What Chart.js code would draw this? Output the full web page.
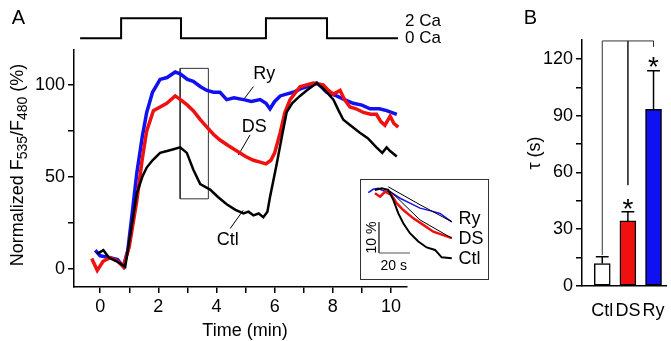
<!DOCTYPE html>
<html>
<head>
<meta charset="utf-8">
<script src="https://cdn.jsdelivr.net/npm/chart.js@4.4.1/dist/chart.umd.min.js"></script>
<style>
  body { margin: 0; background: #fff; }
  #wrap { position: relative; width: 671px; height: 341px; overflow: hidden; background: #fff; }
  #chartA { position: absolute; left: 0; top: 0; }
  #insetBox { position: absolute; left: 360px; top: 179px; width: 127px; height: 99px; border: 1px solid #333; background: #fff; }
  #chartB { position: absolute; left: 520px; top: 0; }
</style>
</head>
<body>
<div id="wrap">
  <canvas id="chartA" width="470" height="341"></canvas>
  <div id="insetBox"><canvas id="inset" width="127" height="99"></canvas></div>
  <canvas id="chartB" width="151" height="341"></canvas>
</div>
<script>
const FONT = "'Liberation Sans', Arial, sans-serif";

// Panel A: normalized F535/F480 (%) vs time (min)
const ctlTime = [-0.11, 0.11, 0.3, 0.57, 0.86, 1.05, 1.26, 1.45, 1.6, 1.8, 2.06, 2.3, 2.52, 2.75, 2.98, 3.2, 3.44, 3.78, 4.05, 4.35, 4.65, 4.93, 5.1, 5.27, 5.45, 5.61, 5.75, 5.84, 6.07, 6.25, 6.41, 6.6, 6.87, 7.1, 7.45, 7.67, 7.85, 8.02, 8.2, 8.36, 8.6, 8.93, 9.2, 9.5, 9.7, 9.85, 9.97, 10.2];
const ctlVal  = [8, 10, 6, 4, 1, 20, 41, 50, 55, 59, 63, 64, 65, 66, 63, 54, 46, 43, 39, 35, 32, 30, 31, 29, 30, 28, 31, 39, 57, 72, 85, 90, 94, 97, 101, 98, 95, 92, 86, 81, 78, 74, 71, 66, 63, 66, 64, 61];

const dsTime = [-0.29, -0.1, 0.1, 0.34, 0.6, 0.8, 1.0, 1.26, 1.45, 1.6, 1.83, 2.06, 2.29, 2.58, 2.76, 3.0, 3.2, 3.45, 3.67, 3.9, 4.12, 4.4, 4.7, 5.0, 5.27, 5.5, 5.7, 5.87, 6.0, 6.19, 6.35, 6.53, 6.87, 7.1, 7.33, 7.67, 7.85, 8.02, 8.25, 8.4, 8.59, 8.8, 9.05, 9.3, 9.5, 9.65, 9.79, 9.97, 10.1, 10.25];
const dsVal  = [5.5, -1, 4, 6, 4, 1, 12, 37, 60, 75, 86, 88, 90, 94, 92, 89, 86, 81, 77, 73, 70, 67, 64, 61, 59, 58, 57, 59, 63, 74, 85, 92, 99, 100, 101, 100, 97, 95, 97, 92, 88, 87, 85, 84, 84, 80, 78, 83, 79, 77];

const ryTime = [-0.17, 0.0, 0.34, 0.6, 0.8, 0.95, 1.1, 1.26, 1.45, 1.6, 1.8, 2.06, 2.3, 2.58, 2.75, 3.0, 3.2, 3.45, 3.67, 3.9, 4.12, 4.35, 4.6, 4.93, 5.2, 5.5, 5.7, 5.84, 6.0, 6.19, 6.4, 6.64, 6.9, 7.1, 7.45, 7.6, 7.79, 8.13, 8.4, 8.7, 9.0, 9.28, 9.6, 9.85, 10.2];
const ryVal  = [10, 7, 6, 5, 1, 10, 30, 52, 72, 85, 96, 103, 104, 107, 106, 103, 102, 99, 97, 96, 96, 92, 93, 92, 91, 92, 90, 87, 91, 94, 95, 96, 98, 99, 101, 99, 96, 94, 92, 90, 89, 87, 87, 86, 84];

// stimulus protocol (mM Ca)
const stimTime = [-0.69, 0.72, 0.72, 2.78, 2.78, 5.70, 5.70, 7.80, 7.80, 10.24];
const stimCa   = [0, 0, 2, 2, 0, 0, 2, 2, 0, 0];

// zoom window marked on panel A
const boxTime = [2.75, 3.72, 3.72, 2.75, 2.75];
const boxVal  = [38, 38, 109, 109, 38];

// Inset: decay phase, time (s) vs %
const inRyT  = [4.7, 7.9, 11.2, 14.4, 18.7, 25.2, 31.6, 38.1, 44.5, 51.0, 58.6];
const inRyV  = [27.9, 29.0, 29.3, 28.5, 28.2, 26.1, 24.5, 22.9, 22.1, 21.2, 18.5];
const inDsT  = [9.0, 12.3, 15.5, 19.8, 23.0, 27.3, 33.8, 40.2, 46.7, 53.1, 58.6];
const inDsV  = [27.7, 26.6, 28.2, 27.1, 24.5, 22.3, 19.6, 17.5, 15.3, 14.2, 13.2];
const inCtlT = [9.0, 13.4, 17.6, 20.9, 24.1, 27.3, 31.6, 37.0, 42.4, 47.8, 52.1, 58.6];
const inCtlV = [28.8, 29.3, 28.8, 25.5, 21.2, 18.0, 14.8, 12.1, 10.2, 9.4, 7.0, 6.7];
const fitRyT = [17.6, 38.1, 58.6];
const fitRyV = [29.8, 24.0, 18.5];
const fitDsT = [18.7, 38.1, 58.6];
const fitDsV = [28.5, 19.1, 13.2];

// Panel B: decay time constant
const groups  = ["Ctl", "DS", "Ry"];
const tauMean = [11.9, 34.4, 93.4];
const tauErr  = [3.5, 4.8, 20.4];
const barColors = ["#ffffff", "#f01010", "#1010f0"];
const starVal = [null, 44.5, 119.5];

const pts = (xs, ys) => xs.map((x, i) => ({ x: x, y: ys[i] }));

function line(data, color, width, extra) {
  return Object.assign({
    type: "line", data: data, borderColor: color, borderWidth: width,
    pointRadius: 0, tension: 0, fill: false, spanGaps: false
  }, extra || {});
}

function axisStyle() {
  return {
    border: { display: true, color: "#000", width: 1.5 },
    grid: { display: true, drawOnChartArea: false, drawTicks: true, tickLength: 6, color: "#000", lineWidth: 1.5 }
  };
}

function text(ctx, s, x, y, size, align, base) {
  ctx.font = size + "px " + FONT;
  ctx.fillStyle = "#000";
  ctx.textAlign = align || "center";
  ctx.textBaseline = base || "middle";
  ctx.fillText(s, x, y);
}

// draws text pieces in a row, e.g. with subscripts
function richText(ctx, parts, cx, cy, rot) {
  ctx.save();
  ctx.translate(cx, cy);
  ctx.rotate(rot);
  let total = 0;
  parts.forEach(p => { ctx.font = p.size + "px " + FONT; p.w = ctx.measureText(p.t).width; total += p.w; });
  let x = -total / 2;
  ctx.fillStyle = "#000";
  ctx.textAlign = "left";
  ctx.textBaseline = "middle";
  parts.forEach(p => { ctx.font = p.size + "px " + FONT; ctx.fillText(p.t, x, p.dy || 0); x += p.w; });
  ctx.restore();
}

// ---------- Panel A ----------
const notesA = {
  id: "notesA",
  afterDraw(chart) {
    const ctx = chart.ctx, x = chart.scales.x, y = chart.scales.y, ys = chart.scales.ys;
    text(ctx, "A", 18.5, 18, 20);
    text(ctx, "2 Ca", x.getPixelForValue(10.48), ys.getPixelForValue(1.66), 17, "left");
    text(ctx, "0 Ca", x.getPixelForValue(10.48), ys.getPixelForValue(0.03), 17, "left");
    text(ctx, "Ry", x.getPixelForValue(5.26), y.getPixelForValue(106), 18, "left");
    text(ctx, "DS", x.getPixelForValue(4.87), y.getPixelForValue(77), 18, "left");
    text(ctx, "Ctl", x.getPixelForValue(4.01), y.getPixelForValue(15.4), 18, "left");
    text(ctx, "Time (min)", 245, 331, 18);
    richText(ctx, [
      { t: "Normalized F", size: 18 },
      { t: "535", size: 14, dy: 5 },
      { t: "/F", size: 18 },
      { t: "480", size: 14, dy: 5 },
      { t: " (%)", size: 18 }
    ], 18.5, 165, -Math.PI / 2);
  }
};

new Chart(document.getElementById("chartA"), {
  data: {
    datasets: [
      line(pts(ctlTime, ctlVal), "#000000", 2.5),
      line(pts(dsTime, dsVal), "#f01010", 3.5),
      line(pts(ryTime, ryVal), "#1010f0", 3.5),
      line(pts(boxTime, boxVal), "#333333", 1),
      line([{ x: 4.92, y: 91.8 }, { x: 5.27, y: 99.1 }], "#000", 1),
      line([{ x: 4.75, y: 61.8 }, { x: 5.15, y: 72.7 }], "#000", 1),
      line([{ x: 4.47, y: 21.8 }, { x: 4.92, y: 31.8 }], "#000", 1),
      line(pts(stimTime, stimCa), "#000", 2, { yAxisID: "ys", clip: false })
    ]
  },
  options: {
    responsive: false,
    animation: false,
    events: [],
    layout: { padding: { left: 0, top: 50, right: 63, bottom: 0 } },
    plugins: { legend: { display: false }, tooltip: { enabled: false } },
    scales: {
      x: Object.assign(axisStyle(), {
        type: "linear", min: -0.9, max: 10.55, offset: false,
        ticks: {
          stepSize: 1, includeBounds: false, autoSkip: false, maxRotation: 0, padding: 3,
          color: "#000", font: { family: FONT, size: 18 },
          callback: v => (v % 2 === 0 ? v : "")
        },
        afterFit: s => { s.height = 54; }
      }),
      y: Object.assign(axisStyle(), {
        type: "linear", min: -10, max: 119,
        ticks: {
          stepSize: 25, includeBounds: false, autoSkip: false, padding: 3,
          color: "#000", font: { family: FONT, size: 18 },
          callback: v => (v % 50 === 0 ? v : "")
        },
        afterFit: s => { s.width = 74; }
      }),
      ys: { type: "linear", display: false, min: -24.87, max: -1.17 }
    }
  },
  plugins: [notesA]
});

// ---------- Inset ----------
const notesInset = {
  id: "notesInset",
  afterDraw(chart) {
    const ctx = chart.ctx, x = chart.scales.x, y = chart.scales.y;
    text(ctx, "Ry", x.getPixelForValue(63.0), y.getPixelForValue(19.5), 18, "left");
    text(ctx, "DS", x.getPixelForValue(63.0), y.getPixelForValue(13.0), 18, "left");
    text(ctx, "Ctl", x.getPixelForValue(63.0), y.getPixelForValue(6.6), 18, "left");
    text(ctx, "20 s", x.getPixelForValue(21.1), y.getPixelForValue(4.0), 14);
    richText(ctx, [{ t: "10 %", size: 14 }], x.getPixelForValue(7.0), y.getPixelForValue(13.4), -Math.PI / 2);
  }
};

new Chart(document.getElementById("inset"), {
  data: {
    datasets: [
      line(pts(fitRyT, fitRyV), "#000", 1),
      line(pts(fitDsT, fitDsV), "#000", 1),
      line(pts(inCtlT, inCtlV), "#000", 2),
      line(pts(inDsT, inDsV), "#f01010", 2.5),
      line(pts(inRyT, inRyV), "#1010f0", 1.5),
      line([{ x: 11.6, y: 18.4 }, { x: 11.6, y: 8.4 }, { x: 31.6, y: 8.4 }], "#555", 1)
    ]
  },
  options: {
    responsive: false,
    animation: false,
    events: [],
    layout: { padding: 0 },
    plugins: { legend: { display: false }, tooltip: { enabled: false } },
    scales: {
      x: { type: "linear", display: false, min: 0, max: 82 },
      y: { type: "linear", display: false, min: 0, max: 32 }
    }
  },
  plugins: [notesInset]
});

// ---------- Panel B ----------
const errData = [];
tauMean.forEach((m, i) => {
  const top = m + tauErr[i];
  errData.push({ x: i + 1, y: m }, { x: i + 1, y: top }, { x: i + 1, y: null },
               { x: i + 0.75, y: top }, { x: i + 1.25, y: top }, { x: i + 1, y: null });
});

const notesB = {
  id: "notesB",
  afterDraw(chart) {
    const ctx = chart.ctx, x = chart.scales.x, y = chart.scales.y;
    text(ctx, "B", 10.5, 18, 20);
    richText(ctx, [{ t: "\u03c4 (s)", size: 18 }], 15, 153, -Math.PI / 2);
    starVal.forEach((v, i) => {
      if (v === null) return;
      text(ctx, "*", x.getPixelForValue(i + 1), y.getPixelForValue(v) + 0.57 * 28, 28, "center", "alphabetic");
    });
  }
};

new Chart(document.getElementById("chartB"), {
  type: "bar",
  data: {
    datasets: [
      line(errData, "#000", 1.5),
      line([{ x: 1, y: 16.3 }, { x: 1, y: 129.5 }, { x: 3, y: 129.5 }, { x: 3, y: 126.5 }], "#333", 1, { clip: false }),
      line([{ x: 2, y: 129.5 }, { x: 2, y: 53.3 }], "#333", 1, { clip: false }),
      {
        type: "bar",
        data: groups.map((g, i) => ({ x: i + 1, y: tauMean[i] })),
        backgroundColor: barColors,
        borderColor: "#000",
        borderWidth: 1.5,
        borderSkipped: false,
        barThickness: 16
      }
    ]
  },
  options: {
    responsive: false,
    animation: false,
    events: [],
    layout: { padding: { left: 0, top: 40, right: 3, bottom: 0 } },
    plugins: { legend: { display: false }, tooltip: { enabled: false } },
    scales: {
      x: {
        type: "linear", min: 0.21, max: 3.52, offset: false,
        border: { display: true, color: "#000", width: 1.5 },
        grid: { display: false },
        ticks: {
          stepSize: 1, includeBounds: false, autoSkip: false, maxRotation: 0, padding: 6,
          color: "#000", font: { family: FONT, size: 18 },
          callback: v => groups[v - 1] || ""
        },
        afterFit: s => { s.height = 55; }
      },
      y: Object.assign(axisStyle(), {
        type: "linear", min: 0, max: 130,
        ticks: {
          stepSize: 15, includeBounds: false, autoSkip: false, padding: 3,
          color: "#000", font: { family: FONT, size: 18 },
          callback: v => (v % 30 === 0 ? v : "")
        },
        afterFit: s => { s.width = 62; }
      })
    }
  },
  plugins: [notesB]
});
</script>
</body>
</html>
